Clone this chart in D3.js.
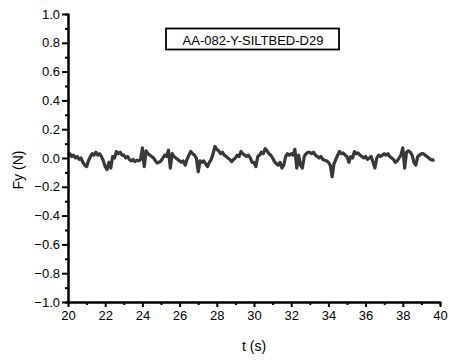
<!doctype html>
<html>
<head>
<meta charset="utf-8"/>
<title>Fy (N)</title>
<script src="https://d3js.org/d3.v7.min.js"></script>
<style>
body { margin:0; background:#fff; }
text { font-family: "Liberation Sans", Arial, sans-serif; fill:#000; }
</style>
</head>
<body>
<script>
var tStart = 20.0, tStep = 0.1;
var fy = [
 0.02, 0.03, 0.01, 0.02, 0.00, 0.01, -0.01, 0.00, -0.03, -0.05,
 -0.06, -0.02, 0.01, 0.03, 0.02, 0.04, 0.02, 0.03, 0.01, -0.02,
 -0.06, -0.08, -0.03, -0.07, 0.01, 0.00, 0.045, 0.03, 0.04, 0.02,
 0.02, 0.00, 0.01, -0.01, -0.02, -0.01, -0.025, -0.015, -0.02, -0.01,
 0.07, -0.06, 0.05, 0.03, 0.02, 0.01, 0.00, -0.02, -0.035, -0.03,
 -0.02, 0.00, 0.02, 0.01, 0.055, -0.07, 0.03, 0.01, 0.00, -0.01,
 -0.02, -0.03, -0.02, -0.05, -0.01, 0.02, 0.045, 0.03, 0.02, 0.00,
 -0.095, -0.02, -0.03, -0.02, -0.04, -0.06, -0.03, -0.01, 0.03, 0.08,
 0.06, 0.05, 0.03, 0.04, 0.02, 0.01, 0.00, -0.01, -0.025, -0.01,
 0.00, 0.02, 0.01, 0.045, 0.03, 0.02, 0.01, 0.02, 0.00, -0.03,
 -0.03, -0.06, 0.01, 0.02, 0.04, 0.03, 0.065, 0.05, 0.03, 0.02,
 0.00, -0.025, -0.04, -0.05, -0.03, -0.07, -0.05, 0.01, 0.03, 0.02,
 0.03, 0.02, 0.06, -0.07, 0.02, -0.05, -0.07, 0.01, 0.03, 0.04,
 0.04, 0.03, 0.04, 0.02, 0.01, 0.00, 0.01, -0.01, -0.015, -0.02,
 -0.03, -0.05, -0.13, -0.04, -0.01, 0.02, 0.045, 0.03, 0.035, 0.02,
 0.01, -0.03, 0.01, 0.00, 0.045, 0.03, 0.035, 0.02, 0.01, 0.00,
 0.01, -0.01, 0.00, 0.01, -0.03, -0.07, 0.00, 0.02, 0.01, 0.02,
 0.03, 0.02, 0.03, 0.01, 0.00, -0.01, -0.03, -0.02, 0.00, 0.02,
 0.07, -0.07, 0.04, 0.05, 0.04, 0.02, -0.03, -0.05, 0.01, 0.02,
 0.03, 0.03, 0.02, 0.01, 0.00, -0.01, -0.015, -0.01
];
var xTicks = [20, 22, 24, 26, 28, 30, 32, 34, 36, 38, 40];
var yTicks = [-1.0, -0.8, -0.6, -0.4, -0.2, 0.0, 0.2, 0.4, 0.6, 0.8, 1.0];
var legendLabel = "AA-082-Y-SILTBED-D29";

var W = 449, H = 360;
var svg = d3.select("body").append("svg").attr("width", W).attr("height", H);

var x = d3.scaleLinear().domain([20, 40]).range([68, 440]);
var y = d3.scaleLinear().domain([-1, 1]).range([302, 14]);

// the trace
var pts = fy.map(function(v, i){ return [tStart + i*tStep, v]; });
var line = d3.line().x(function(d){ return x(d[0]); }).y(function(d){ return y(d[1]); });
svg.append("path").datum(pts)
  .attr("d", line)
  .attr("fill", "none")
  .attr("stroke", "#383838")
  .attr("stroke-width", 3.2)
  .attr("stroke-linejoin", "round");

// minor ticks
var xMinor = d3.range(21, 40, 2);
var yMinor = d3.range(-9, 10, 2).map(function(k){ return k/10; });

var gx = svg.append("g").attr("transform", "translate(0,302)");
gx.call(d3.axisBottom(x).tickValues(xMinor).tickSize(3).tickFormat(""));
gx.append("g").call(d3.axisBottom(x).tickValues(xTicks).tickSize(5).tickSizeOuter(0).tickPadding(4)
    .tickFormat(d3.format("d")));

var gy = svg.append("g").attr("transform", "translate(68,0)");
gy.call(d3.axisLeft(y).tickValues(yMinor).tickSize(3).tickFormat(""));
gy.append("g").call(d3.axisLeft(y).tickValues(yTicks).tickSize(6).tickSizeOuter(0).tickPadding(2)
    .tickFormat(d3.format(".1f")));

svg.selectAll(".domain").attr("stroke", "#000").attr("stroke-width", 2);
svg.selectAll(".tick line").attr("stroke", "#000").attr("stroke-width", 2);
svg.selectAll(".tick text").style("font-size", "13px").attr("fill", "#000");

// axis titles
svg.append("text").attr("x", 254).attr("y", 351).attr("text-anchor", "middle")
  .style("font-size", "14px").text("t (s)");
svg.append("text").attr("transform", "translate(23,170) rotate(-90)").attr("text-anchor", "middle")
  .style("font-size", "14px").text("Fy (N)");

// legend box
svg.append("rect").attr("x", 166).attr("y", 28.5).attr("width", 173).attr("height", 21)
  .attr("fill", "#fff").attr("stroke", "#000").attr("stroke-width", 1.8);
svg.append("text").attr("x", 253).attr("y", 44.5).attr("text-anchor", "middle")
  .style("font-size", "13px").text(legendLabel);
</script>
</body>
</html>
